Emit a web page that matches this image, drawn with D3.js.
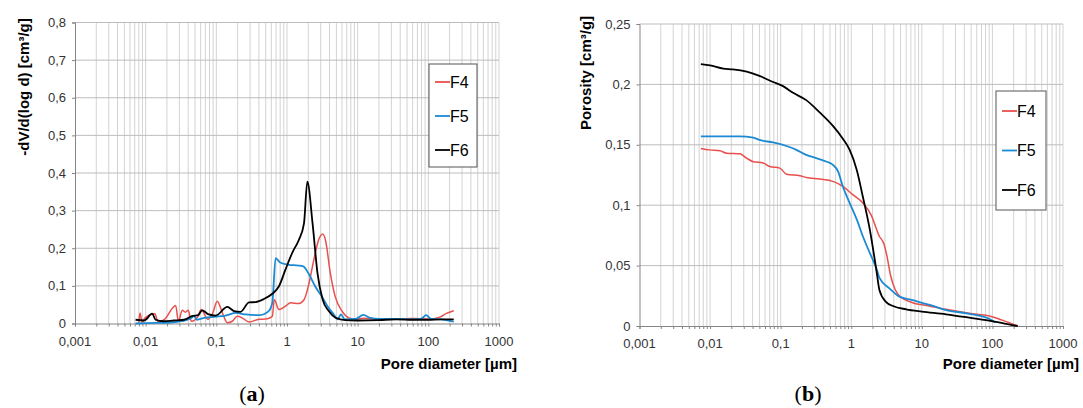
<!DOCTYPE html>
<html>
<head>
<meta charset="utf-8">
<script src="https://cdn.jsdelivr.net/npm/d3@7"></script>
<style>
  body { margin: 0; background: #fff; }
  svg { display: block; font-family: "Liberation Sans", Arial, sans-serif; }
</style>
</head>
<body>
<svg width="1083" height="408"></svg>
<script>
// pore diameter [um], value pairs
var seriesNames = ['F4', 'F5', 'F6'];
var seriesColors = ['#e8504d', '#1b8ad3', '#000000'];

// (a) -dV/d(log d)
var distF4 = [[0.0080,0.002],[0.0083,0.028],[0.0089,0.003],[0.0098,0.015],[0.0135,0.026],[0.0150,0.004],[0.0185,0.011],
  [0.0266,0.048],[0.0290,0.006],[0.0330,0.035],[0.0365,0.030],[0.0400,0.035],[0.0444,0.006],[0.0550,0.019],[0.0610,0.037],
  [0.0760,0.011],[0.0890,0.028],[0.103,0.059],[0.122,0.028],[0.143,0.002],[0.168,0.006],[0.198,0.019],[0.232,0.015],
  [0.29,0.004],[0.40,0.011],[0.50,0.012],[0.62,0.019],[0.66,0.063],[0.77,0.037],[0.95,0.046],[1.12,0.055],[1.47,0.053],
  [1.74,0.063],[2.05,0.107],[2.4,0.17],[2.8,0.222],[3.2,0.238],[3.5,0.222],[4.1,0.134],[4.8,0.072],[6.0,0.033],[7.5,0.015],
  [9.3,0.011],[12,0.014],[20,0.011],[35,0.012],[60,0.013],[100,0.012],[145,0.017],[180,0.027],[229,0.034]];
var distF5 = [[0.0072,0.0],[0.0105,0.001],[0.021,0.002],[0.032,0.006],[0.045,0.015],[0.048,0.021],[0.053,0.010],[0.068,0.015],
  [0.098,0.018],[0.135,0.021],[0.19,0.028],[0.26,0.024],[0.40,0.022],[0.55,0.033],[0.62,0.055],[0.69,0.174],[0.80,0.162],
  [1.05,0.156],[1.45,0.154],[1.7,0.152],[2.0,0.134],[2.5,0.099],[3.2,0.068],[3.9,0.041],[4.6,0.024],[5.2,0.011],[5.8,0.024],
  [6.6,0.011],[9.3,0.012],[12,0.023],[15,0.015],[20,0.012],[25.6,0.012],[40,0.012],[60,0.011],[80,0.013],[93,0.022],
  [110,0.012],[150,0.011],[229,0.005]];
var distF6 = [[0.0072,0.010],[0.0095,0.008],[0.0124,0.026],[0.0138,0.010],[0.018,0.006],[0.025,0.008],[0.035,0.010],
  [0.046,0.020],[0.055,0.022],[0.063,0.035],[0.078,0.024],[0.098,0.021],[0.143,0.044],[0.178,0.033],[0.22,0.031],
  [0.29,0.056],[0.36,0.057],[0.47,0.065],[0.62,0.079],[0.77,0.099],[0.95,0.143],[1.2,0.19],[1.47,0.222],[1.74,0.266],
  [1.94,0.377],[2.3,0.266],[2.7,0.134],[3.2,0.063],[3.9,0.033],[4.9,0.015],[6.7,0.009],[10,0.008],[20,0.009],[35,0.011],
  [60,0.010],[100,0.010],[150,0.011],[229,0.011]];

// (b) cumulative porosity
var poroF4 = [[0.0074,0.147],[0.0098,0.1458],[0.0138,0.145],[0.0172,0.143],[0.0265,0.1425],[0.0329,0.139],[0.0408,0.136],
  [0.0565,0.135],[0.070,0.132],[0.097,0.1307],[0.121,0.1257],[0.187,0.1243],[0.231,0.123],[0.357,0.1216],[0.55,0.1197],
  [0.76,0.1155],[1.05,0.1087],[1.46,0.1018],[1.91,0.092],[2.5,0.0743],[2.9,0.068],[3.2,0.058],[3.6,0.042],[4.2,0.030],
  [5.0,0.024],[7.4,0.0193],[12.6,0.0166],[22,0.0138],[47,0.0105],[90,0.0083],[158,0.0036],[228,0.0]];
var poroF5 = [[0.0074,0.157],[0.026,0.157],[0.041,0.156],[0.05,0.154],[0.078,0.152],[0.121,0.149],[0.167,0.1458],
  [0.23,0.1417],[0.32,0.139],[0.45,0.136],[0.55,0.1334],[0.65,0.128],[0.76,0.1155],[0.95,0.1018],[1.2,0.088],[1.46,0.0743],
  [1.83,0.0605],[2.3,0.0468],[2.5,0.040],[3.5,0.031],[4.8,0.0243],[7.4,0.0215],[10.6,0.0188],[13,0.0175],[22,0.0132],
  [43,0.0105],[90,0.006],[110,0.003]];
var poroF6 = [[0.0074,0.2168],[0.01,0.2157],[0.0154,0.213],[0.021,0.2124],[0.033,0.2105],[0.05,0.207],[0.078,0.202],
  [0.108,0.1986],[0.15,0.193],[0.23,0.187],[0.36,0.1766],[0.55,0.1656],[0.76,0.155],[0.95,0.1458],[1.2,0.129],[1.46,0.107],
  [1.83,0.08],[2.3,0.044],[2.5,0.030],[3.1,0.020],[3.9,0.0166],[6.0,0.0138],[10,0.0119],[22,0.0097],[37,0.0077],
  [90,0.0044],[190,0.0008],[228,0.0]];

var xTicks = [0.001, 0.01, 0.1, 1, 10, 100, 1000];
var xTickLabels = ['0,001', '0,01', '0,1', '1', '10', '100', '1000'];
var yTicksA = [0, 0.1, 0.2, 0.3, 0.4, 0.5, 0.6, 0.7, 0.8];
var yTicksB = [0, 0.05, 0.1, 0.15, 0.2, 0.25];

var svg = d3.select('svg');

// every 1..9 x 10^k between 0.001 and 1000
var minor = [];
for (var k = -3; k < 3; k++) {
  for (var m = 1; m < 10; m++) minor.push(m * Math.pow(10, k));
}
minor.push(1000);

function comma(v) { return String(+v.toFixed(2)).replace('.', ','); }

function panel(o) {
  var g = svg.append('g');
  var x = d3.scaleLog().domain([0.001, 1000]).range(o.xr);
  var y = d3.scaleLinear().domain([0, o.yTicks[o.yTicks.length - 1]]).range(o.yr);

  // vertical grid
  g.selectAll('line.vg').data(minor.slice(1)).enter().append('line')
    .attr('x1', function(d) { return x(d); }).attr('x2', function(d) { return x(d); })
    .attr('y1', o.yr[0]).attr('y2', o.yr[1])
    .attr('stroke', '#d3d3d3').attr('stroke-width', 1);

  // horizontal grid
  g.selectAll('line.hg').data(o.yTicks.slice(1)).enter().append('line')
    .attr('x1', o.xr[0]).attr('x2', o.xr[1])
    .attr('y1', function(d) { return y(d); }).attr('y2', function(d) { return y(d); })
    .attr('stroke', '#bdbdbd').attr('stroke-width', 1);

  // axes
  var xAxis = d3.axisBottom(x).tickValues(minor).tickSize(3).tickFormat('');
  g.append('g').attr('transform', 'translate(0,' + o.yr[0] + ')').call(xAxis)
    .call(function(s) { s.selectAll('line, path').attr('stroke', '#858585'); });
  var yAxis = d3.axisLeft(y).tickValues(o.yTicks).tickSize(3).tickFormat('');
  g.append('g').attr('transform', 'translate(' + o.xr[0] + ',0)').call(yAxis)
    .call(function(s) { s.selectAll('line, path').attr('stroke', '#858585'); });

  g.selectAll('text.xl').data(xTicks).enter().append('text')
    .attr('x', function(d) { return x(d); }).attr('y', o.yr[0] + 22)
    .attr('text-anchor', 'middle').style('font-size', '13px').attr('fill', '#333')
    .text(function(d, i) { return xTickLabels[i]; });

  g.selectAll('text.yl').data(o.yTicks).enter().append('text')
    .attr('x', o.xr[0] - 9).attr('y', function(d) { return y(d) + 4.5; })
    .attr('text-anchor', 'end').style('font-size', '13px').attr('fill', '#333')
    .text(comma);

  g.append('text').attr('x', o.xlabelEnd).attr('y', 369)
    .attr('text-anchor', 'end').style('font-size', '15px').style('font-weight', 'bold')
    .text('Pore diameter [\u00b5m]');

  g.append('text').attr('transform', 'translate(' + o.ylabel[0] + ',' + o.ylabel[1] + ') rotate(-90)')
    .attr('text-anchor', 'middle').style('font-size', '15px').style('font-weight', 'bold')
    .text(o.ytitle);

  var line = d3.line()
    .x(function(d) { return x(d[0]); })
    .y(function(d) { return y(d[1]); })
    .curve(d3.curveMonotoneX);

  g.selectAll('path.s').data(o.series).enter().append('path')
    .attr('d', line).attr('fill', 'none')
    .attr('stroke', function(d, i) { return seriesColors[i]; })
    .attr('stroke-width', function(d, i) { return i == 0 ? 1.5 : 1.8; })
    .attr('stroke-linejoin', 'round');

  // legend
  var lg = g.append('g');
  lg.append('rect').attr('x', o.legend.x).attr('y', o.legend.y)
    .attr('width', o.legend.w).attr('height', o.legend.h)
    .attr('fill', '#fff').attr('stroke', '#555').attr('stroke-width', 1);
  seriesNames.forEach(function(name, i) {
    var ly = o.legend.first + i * o.legend.step;
    lg.append('line').attr('x1', o.legend.x + 6).attr('x2', o.legend.x + 21)
      .attr('y1', ly).attr('y2', ly)
      .attr('stroke', seriesColors[i]).attr('stroke-width', 1.8);
    lg.append('text').attr('x', o.legend.x + 21).attr('y', ly + 5.5)
      .style('font-size', '16px').text(name);
  });

  svg.append('text').attr('x', o.tag[0]).attr('y', 401)
    .attr('text-anchor', 'middle')
    .style('font-family', '"Liberation Serif", "DejaVu Serif", serif').style('font-size', '22px')
    .html('(<tspan font-weight="bold">' + o.tagLetter + '</tspan>)');
}

panel({
  xr: [75, 499], yr: [323.5, 22.5], yTicks: yTicksA,
  series: [distF4, distF5, distF6],
  xlabelEnd: 517, ylabel: [29, 87], ytitle: '-dV/d(log d) [cm\u00b3/g]',
  legend: { x: 429, y: 64, w: 48, h: 103, first: 82, step: 34 },
  tag: [252], tagLetter: 'a'
});

panel({
  xr: [639.5, 1063], yr: [326, 24], yTicks: yTicksB,
  series: [poroF4, poroF5, poroF6],
  xlabelEnd: 1079, ylabel: [591, 73], ytitle: 'Porosity [cm\u00b3/g]',
  legend: { x: 996, y: 91, w: 50, h: 119, first: 111, step: 39.5 },
  tag: [808], tagLetter: 'b'
});
</script>
</body>
</html>
